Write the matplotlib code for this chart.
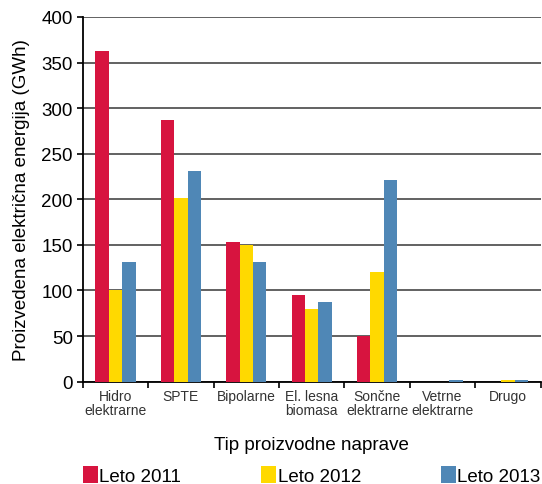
import numpy as np
import matplotlib
matplotlib.use("Agg")
import matplotlib.pyplot as plt
from matplotlib.patches import Patch

plt.rcParams['font.family'] = ['Liberation Sans', 'DejaVu Sans']

categories = ["Hidro\nelektrarne", "SPTE", "Bipolarne", "El. lesna\nbiomasa",
              "Sončne\nelektrarne", "Vetrne\nelektrarne", "Drugo"]
leto_2011 = [363, 287, 153, 95, 50, 0, 0]
leto_2012 = [100, 201, 150, 80, 120, 0, 1.5]
leto_2013 = [131, 231, 131, 87, 221, 1.8, 1.8]
series = ["Leto 2011", "Leto 2012", "Leto 2013"]
colors = ["#D7143F", "#FFD900", "#4F87B6"]

fig = plt.figure(figsize=(5.42, 4.85), dpi=100)
ax = fig.add_axes([0.1526, 0.211, 0.845, 0.752])

x = np.arange(len(categories))
w = 0.205
for i, (vals, c) in enumerate(zip([leto_2011, leto_2012, leto_2013], colors)):
    ax.bar(x + (i - 1) * w, vals, width=w, color=c, zorder=3)

ax.set_xlim(-0.5, len(categories) - 0.5)
ax.set_ylim(0, 400)
ax.set_yticks(np.arange(0, 401, 50))
ax.yaxis.grid(True, color="#555555", linewidth=1.3, zorder=0)
ax.set_axisbelow(True)

ax.set_xticks(np.arange(len(categories) + 1) - 0.5)
ax.set_xticklabels([])
ax.set_xticks(x, minor=True)
ax.set_xticklabels(categories, minor=True, fontsize=10, linespacing=1.0,
                   family=['Liberation Sans Narrow', 'Liberation Sans'], color="#333333")
ax.tick_params(axis="x", which="minor", length=0, pad=5)
ax.tick_params(axis="x", which="major", length=4, width=1.2, direction="out")
ax.tick_params(axis="y", length=4, width=1.2, labelsize=13.5, pad=3)

for s in ["top", "right"]:
    ax.spines[s].set_visible(False)
ax.spines["left"].set_linewidth(1.3)
ax.spines["bottom"].set_linewidth(1.3)

ax.set_ylabel("Proizvedena električna energija (GWh)", fontsize=13.5, labelpad=8)
ax.set_xlabel("Tip proizvodne naprave", fontsize=13.5, labelpad=14)

handles = [Patch(facecolor=c, label=s) for c, s in zip(colors, series)]
fig.legend(handles=handles, loc="lower left", ncol=3, mode="expand",
           bbox_to_anchor=(0.142, -0.014, 0.866, 0.04), frameon=False,
           fontsize=13.5, handlelength=0.8, handleheight=1.0, handletextpad=0.1,
           borderaxespad=0.1, borderpad=0.2)

fig.savefig("out.png", dpi=100)
